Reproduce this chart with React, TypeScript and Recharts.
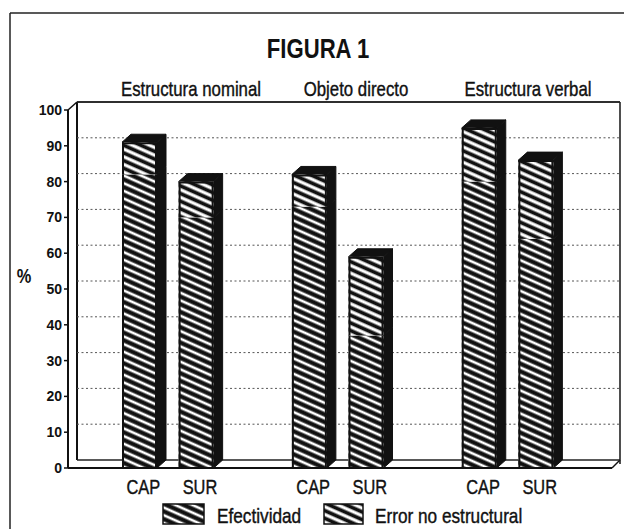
import React from 'react';
import { BarChart, Bar, XAxis, YAxis, CartesianGrid } from 'recharts';

// ---- data ----
const categories = ['EN-CAP', 'EN-SUR', 'gap-1', 'OD-CAP', 'OD-SUR', 'gap-2', 'EV-CAP', 'EV-SUR'];
const tickLabels = ['CAP', 'SUR', '', 'CAP', 'SUR', '', 'CAP', 'SUR'];
const efectividad = [82, 70, null, 73, 37, null, 80, 64];
const errorNoEstructural = [9, 10, null, 9, 22, null, 15, 22];
const groupTitles = ['Estructura nominal', 'Objeto directo', 'Estructura verbal'];
const yTicks = [0, 10, 20, 30, 40, 50, 60, 70, 80, 90, 100];
const legendLabels = ['Efectividad', 'Error no estructural'];

const data = categories.map((c, i) => ({
  key: c,
  label: tickLabels[i],
  efectividad: efectividad[i],
  error: errorNoEstructural[i],
}));

// ---- styling ----
const W = 624;
const H = 529;
const FONT = "'Liberation Sans', Arial, sans-serif";
const INK = '#111';
const DX = 9;
const DY = 8;
const BACK_RIGHT = 620;
const SX = 0.82;

const NText = ({ x, y, size, bold, anchor, children, dy }: any) => (
  <g transform={`translate(${x} ${y}) scale(${SX} 1)`}>
    <text
      x={0}
      y={0}
      dy={dy}
      textAnchor={anchor || 'start'}
      fontFamily={FONT}
      fontSize={size}
      fontWeight={bold ? 'bold' : 'normal'}
      fill={INK}
      stroke={bold ? 'none' : INK}
      strokeWidth={bold ? 0 : 0.4}
    >
      {children}
    </text>
  </g>
);

const Patterns = ({ prefix }: { prefix: string }) => (
  <defs>
    <pattern id={`${prefix}-eff`} patternUnits="userSpaceOnUse" width="20" height="7" patternTransform="rotate(24)">
      <rect x="0" y="0" width="20" height="7" fill={INK} />
      <rect x="0" y="3.7" width="20" height="2.7" fill="#fff" />
    </pattern>
    <pattern id={`${prefix}-err`} patternUnits="userSpaceOnUse" width="20" height="7" patternTransform="rotate(24)">
      <rect x="0" y="0" width="20" height="7" fill={INK} />
      <rect x="0" y="0.3" width="20" height="3.2" fill="#fff" />
    </pattern>
  </defs>
);

const make3D = (withTop: boolean) => (props: any) => {
  const { x, y, width, height, fill } = props;
  if (x == null || y == null || !height || height <= 0) return null;
  const side = `${x + width},${y} ${x + width + DX},${y - DY} ${x + width + DX},${y + height - DY} ${x + width},${y + height}`;
  const top = `${x},${y} ${x + DX},${y - DY} ${x + width + DX},${y - DY} ${x + width},${y}`;
  return (
    <g>
      <polygon points={side} fill={INK} stroke={INK} strokeWidth={1} />
      {withTop && <polygon points={top} fill={INK} stroke={INK} strokeWidth={1} />}
      <rect x={x} y={y} width={width} height={height} fill={fill} />
      <line x1={x + 1} y1={y} x2={x + 1} y2={y + height} stroke={INK} strokeWidth={2} />
      <line x1={x + width - 1} y1={y} x2={x + width - 1} y2={y + height} stroke={INK} strokeWidth={2} />
      {withTop && <line x1={x} y1={y + 1} x2={x + width} y2={y + 1} stroke={INK} strokeWidth={2} />}
    </g>
  );
};

const BackGridLine = (p: any) => {
  const isEdge = Math.abs(p.y1 - p.y) < 0.5 || Math.abs(p.y1 - (p.y + p.height)) < 0.5;
  return (
    <line
      key={p.key}
      x1={p.x1 + DX}
      y1={p.y1 - DY}
      x2={Math.min(p.x2 + DX, BACK_RIGHT)}
      y2={p.y2 - DY}
      stroke={isEdge ? '#222' : '#555'}
      strokeWidth={isEdge ? 1.6 : 1}
      strokeDasharray={isEdge ? undefined : '2 2.5'}
    />
  );
};

const XTick = (props: any) => {
  const { x, y, index } = props;
  const label = tickLabels[index] ?? '';
  return (
    <NText x={x + 4} y={y} dy="0.71em" anchor="middle" size={20}>
      {label}
    </NText>
  );
};

export default function App() {
  const plotLeft = 68;
  const plotTop = 110;
  const plotBottom = 468;
  const plotRight = 612;
  const xAxisHeight = 30;
  return (
    <div style={{ position: 'absolute', left: 0, top: 0, width: W, height: H, background: '#fff' }}>
      {/* frame, walls and titles (behind) */}
      <svg width={W} height={H} style={{ position: 'absolute', left: 0, top: 0 }}>
        <line x1={10} y1={13} x2={W} y2={13} stroke="#222" strokeWidth={1.5} />
        <line x1={10} y1={13} x2={10} y2={H} stroke="#222" strokeWidth={1.5} />
        {/* back wall */}
        <line x1={plotLeft + DX} y1={plotTop - DY} x2={BACK_RIGHT} y2={plotTop - DY} stroke="#222" strokeWidth={1.6} />
        <line x1={plotLeft + DX} y1={plotTop - DY} x2={plotLeft + DX} y2={plotBottom - DY} stroke={INK} strokeWidth={2} />
        <line x1={BACK_RIGHT} y1={plotTop - DY} x2={BACK_RIGHT} y2={plotBottom - DY + 4} stroke="#222" strokeWidth={1.6} />
        <line x1={plotLeft} y1={plotTop} x2={plotLeft + DX} y2={plotTop - DY} stroke={INK} strokeWidth={1.5} />
        <line x1={plotRight} y1={plotBottom} x2={BACK_RIGHT} y2={plotBottom - DY} stroke={INK} strokeWidth={1.5} />
        <NText x={318} y={58} anchor="middle" size={27} bold>
          FIGURA 1
        </NText>
        {groupTitles.map((t, i) => (
          <NText key={t} x={[191, 356, 528][i]} y={96} anchor="middle" size={20.5}>
            {t}
          </NText>
        ))}
        <NText x={24} y={283} anchor="middle" size={20} bold>
          %
        </NText>
      </svg>

      <div style={{ position: 'absolute', left: 0, top: 0 }}>
        <BarChart
          width={W}
          height={H}
          data={data}
          margin={{ top: plotTop, right: W - plotRight, bottom: H - plotBottom - xAxisHeight, left: 0 }}
          barSize={35}
        >
          <Patterns prefix="bar" />
          <CartesianGrid vertical={false} horizontal={BackGridLine} />
          <XAxis
            dataKey="key"
            height={xAxisHeight}
            padding={{ left: 43, right: 48 }}
            tickLine={false}
            tickSize={0}
            tickMargin={12}
            axisLine={{ stroke: INK, strokeWidth: 2 }}
            tick={<XTick />}
            interval={0}
          />
          <YAxis
            width={plotLeft}
            domain={[0, 100]}
            ticks={yTicks}
            tickSize={4}
            tickLine={{ stroke: INK, strokeWidth: 1.5 }}
            axisLine={{ stroke: INK, strokeWidth: 2 }}
            tick={{ fontFamily: FONT, fontWeight: 'bold', fontSize: 14, fill: INK }}
          />
          <Bar dataKey="efectividad" stackId="a" fill="url(#bar-eff)" shape={make3D(false)} isAnimationActive={false} />
          <Bar dataKey="error" stackId="a" fill="url(#bar-err)" shape={make3D(true)} isAnimationActive={false} />
        </BarChart>
      </div>

      {/* legend */}
      <svg width={W} height={H} style={{ position: 'absolute', left: 0, top: 0, pointerEvents: 'none' }}>
        <Patterns prefix="leg" />
        <rect x={163} y={504} width={41} height={20} fill="url(#leg-eff)" stroke={INK} strokeWidth={1.5} />
        <NText x={217} y={523} size={21}>
          {legendLabels[0]}
        </NText>
        <rect x={324} y={504} width={39} height={20} fill="url(#leg-err)" stroke={INK} strokeWidth={1.5} />
        <NText x={375} y={523} size={21}>
          {legendLabels[1]}
        </NText>
      </svg>
    </div>
  );
}
